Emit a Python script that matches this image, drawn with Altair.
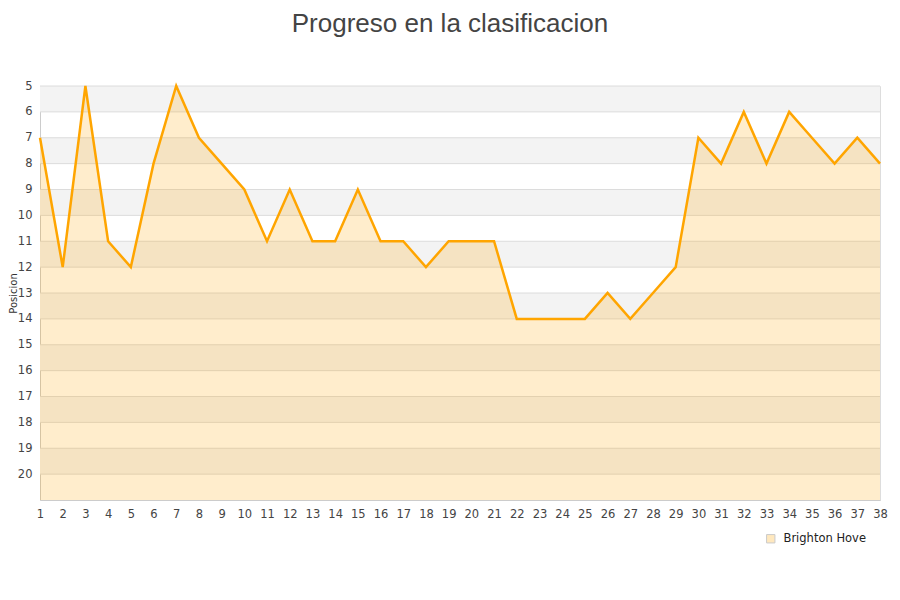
import altair as alt
import pandas as pd

jornadas = list(range(1, 39))
posiciones = [7, 12, 5, 11, 12, 8, 5, 7, 8, 9, 11, 9, 11, 11, 9, 11, 11, 12, 11, 11, 11,
              14, 14, 14, 14, 13, 14, 13, 12, 7, 8, 6, 8, 6, 7, 8, 7, 8]
equipo = "Brighton Hove"
band_start = [5, 7, 9, 11, 13, 15, 17, 19]
band_end = [6, 8, 10, 12, 14, 16, 18, 20]
y_ticks = list(range(5, 21))

df = pd.DataFrame({"jornada": jornadas, "pos": posiciones, "equipo": [equipo] * len(jornadas)})
bands = pd.DataFrame({"y0": band_start, "y1": band_end})

W, H = 840, 414
xscale = alt.Scale(domain=[1, 38], nice=False, zero=False)
yscale = alt.Scale(domain=[5, 21], reverse=True, nice=False, zero=False)

xaxis = alt.Axis(values=jornadas, title=None, grid=False, ticks=False, format="d",
                 labelOverlap=False, labelFlush=False)
yaxis = alt.Axis(values=y_ticks, title="Posicion", grid=False, ticks=False,
                 labelOverlap=False, labelFlush=False, titleFont="DejaVu Sans",
                 titleFontSize=10, titleFontWeight="normal", titleColor="#333",
                 titleX=-22, titleY=H / 2, titleAngle=270, titleAlign="center",
                 titleBaseline="bottom")

band_layer = alt.Chart(bands).mark_rect(color="#f3f3f3").encode(
    x=alt.value(0), x2=alt.value(W),
    y=alt.Y("y0:Q", scale=yscale, axis=yaxis), y2="y1:Q",
)

grid = alt.Chart(pd.DataFrame({"v": y_ticks})).mark_rule(color="#dcdcdc", strokeWidth=1).encode(
    y=alt.Y("v:Q", scale=yscale, axis=yaxis),
    x=alt.value(0), x2=alt.value(W),
)

area = alt.Chart(df).mark_area(opacity=0.2).encode(
    x=alt.X("jornada:Q", scale=xscale, axis=xaxis),
    y=alt.Y("pos:Q", scale=yscale, axis=yaxis),
    y2=alt.datum(21),
    fill=alt.Fill("equipo:N", scale=alt.Scale(range=["#ffa500"]),
                  legend=alt.Legend(title=None, orient="none", legendX=725, legendY=447,
                                    symbolType="square", symbolSize=70, symbolStrokeColor="#333",
                                    symbolStrokeWidth=1, labelFontSize=11.5, labelColor="#222",
                                    labelFont="DejaVu Sans", labelOffset=7, padding=0,
                                    symbolOpacity=0.25)),
)

line = alt.Chart(df).mark_line(color="#ffa500", strokeWidth=2.5).encode(
    x=alt.X("jornada:Q", scale=xscale, axis=xaxis),
    y=alt.Y("pos:Q", scale=yscale, axis=yaxis),
)

chart = alt.layer(band_layer, grid, area, line).properties(
    width=W, height=H,
    autosize=alt.AutoSizeParams(type="none"),
    padding={"left": 32, "top": 78, "right": 12, "bottom": 60},
    title=alt.TitleParams("Progreso en la clasificacion", font="Liberation Sans", fontSize=26,
                          fontWeight="normal", color="#444", anchor="middle", frame="group",
                          dx=-10, offset=43),
).configure_view(stroke="#dddddd").configure(background="white").configure_axis(
    domainColor="#cccccc", labelColor="#444", labelFontSize=11.5, labelFont="DejaVu Sans",
    labelPadding=8, labelOverlap=False, labelFlush=False,
)

chart.save("out.html", embed_options={"renderer": "svg", "actions": False})
